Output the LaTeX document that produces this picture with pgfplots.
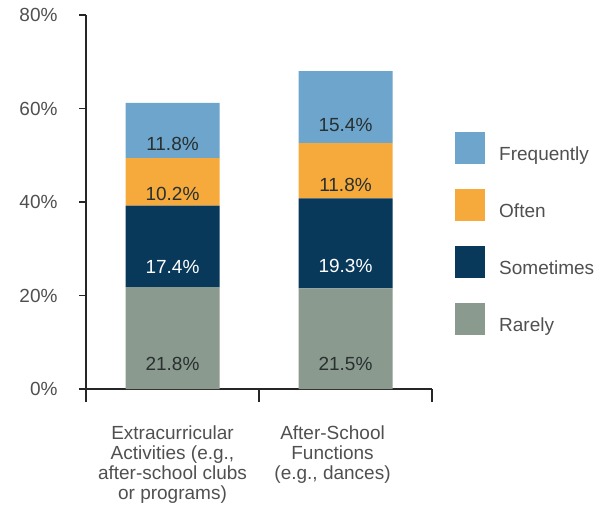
\documentclass[border=0pt]{standalone}
\usepackage{pgfplots}
\usepackage{pgfplotstable}
\pgfplotsset{compat=1.18}
\usepackage{fontspec}
\setmainfont{Liberation Sans}
\definecolor{cfreq}{RGB}{110,165,205}
\definecolor{coften}{RGB}{246,170,60}
\definecolor{csome}{RGB}{8,56,90}
\definecolor{crare}{RGB}{138,154,143}
\definecolor{ctxt}{RGB}{80,80,80}
\definecolor{cval}{RGB}{40,48,48}
\pgfplotsset{sqleg/.style={legend image code/.code={\fill[##1] (0bp,-10bp) rectangle (30bp,22bp);}}}
\pgfplotstableread{
x rarely sometimes often frequently
0 21.8 17.4 10.2 11.8
1 21.5 19.3 11.8 15.4
}\data
\begin{document}
\begin{tikzpicture}
\useasboundingbox (0,0) rectangle (606bp,519bp);
\begin{axis}[
  at={(86bp,130bp)}, anchor=south west,
  scale only axis, width=346bp, height=374bp,
  ybar stacked, bar width=94bp,
  xmin=-0.5, xmax=1.5, ymin=0, ymax=80,
  axis x line*=bottom, axis y line*=left,
  axis line style={line width=1.8bp, black!85},
  tick align=outside,
  major tick length=7bp,
  tick style={line width=1.8bp, black!85},
  xtick={0,0.925},
  xticklabels={{Extracurricular\\Activities (e.g.,\\after-school clubs\\or programs)},{After-School\\Functions\\(e.g., dances)}},
  xtick style={draw=none},
  xticklabel style={align=center, text=ctxt, anchor=north, yshift=-26bp,
      font=\fontsize{19bp}{20bp}\selectfont},
  extra x ticks={-0.5,0.5,1.5},
  extra x tick labels={},
  extra x tick style={major tick length=13bp, xtick style={draw=black!85, line width=1.8bp}},
  ytick={0,20,40,60,80},
  yticklabels={0\%,20\%,40\%,60\%,80\%},
  yticklabel style={text=ctxt, font=\fontsize{19bp}{22bp}\selectfont, xshift=-18bp},
  clip=false,
  visualization depends on={rawy \as \rawy},
  nodes near coords={\pgfmathprintnumber[assume math mode=true,fixed,fixed zerofill,precision=1]{\rawy}\%},
  every node near coord/.append style={anchor=center, yshift=-\rawy*1.16875bp,
     font=\fontsize{19bp}{22bp}\selectfont, text=cval},
  reverse legend,
  legend cell align=left,
  legend style={at={(1.0665,0.687)}, anchor=north west, draw=none, fill=none,
     inner sep=0pt, row sep=25bp, column sep=14bp,
     nodes={inner sep=0pt}, text=ctxt, font=\fontsize{19bp}{22bp}\selectfont},
]
\addplot[fill=crare, draw=none, sqleg] table[x=x,y=rarely]{\data};
\addplot[fill=csome, draw=none, sqleg, every node near coord/.append style={text=white}] table[x=x,y=sometimes]{\data};
\addplot[fill=coften, draw=none, sqleg] table[x=x,y=often]{\data};
\addplot[fill=cfreq, draw=none, sqleg] table[x=x,y=frequently]{\data};
\legend{Rarely,Sometimes,Often,Frequently}
\end{axis}
\end{tikzpicture}
\end{document}
